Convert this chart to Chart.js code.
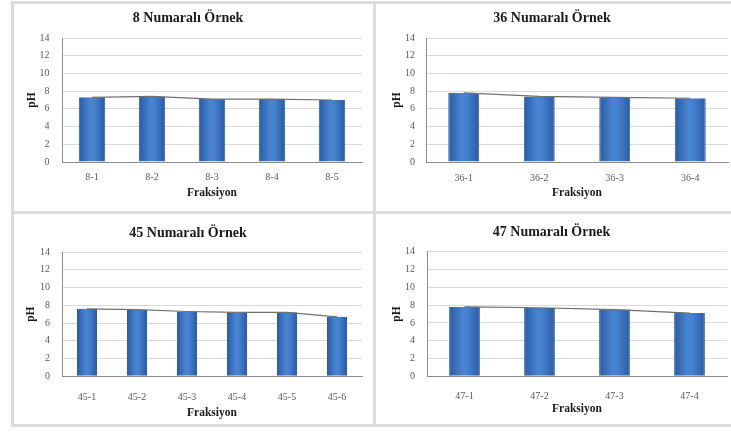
<!DOCTYPE html>
<html>
<head>
<meta charset="utf-8">
<script src="https://cdn.jsdelivr.net/npm/chart.js@4.4.1/dist/chart.umd.min.js"></script>
<style>
  html, body { margin: 0; padding: 0; background: #ffffff; }
  #wrap { position: relative; width: 731px; height: 432px; overflow: hidden; background: #ffffff; }
  .frame { position: absolute; background: #dcdcdc; }
  canvas { position: absolute; }
</style>
</head>
<body>
<div id="wrap">
  <div class="frame" style="left:11px;top:1px;width:720px;height:3px"></div>
  <div class="frame" style="left:11px;top:211px;width:720px;height:3px"></div>
  <div class="frame" style="left:11px;top:424px;width:720px;height:3px"></div>
  <div class="frame" style="left:11px;top:1px;width:3px;height:426px"></div>
  <div class="frame" style="left:373px;top:1px;width:3px;height:426px"></div>
  <canvas id="c8"  width="359" height="207" style="left:14px;top:4px"></canvas>
  <canvas id="c36" width="355" height="207" style="left:376px;top:4px"></canvas>
  <canvas id="c45" width="359" height="210" style="left:14px;top:214px"></canvas>
  <canvas id="c47" width="355" height="210" style="left:376px;top:214px"></canvas>
</div>
<script>
// Fraction labels and measured pH for each sample
const fractions8  = ['8-1', '8-2', '8-3', '8-4', '8-5'];
const ph8         = [7.3, 7.4, 7.1, 7.1, 7.0];

const fractions36 = ['36-1', '36-2', '36-3', '36-4'];
const ph36        = [7.8, 7.4, 7.3, 7.2];

const fractions45 = ['45-1', '45-2', '45-3', '45-4', '45-5', '45-6'];
const ph45        = [7.6, 7.5, 7.3, 7.2, 7.2, 6.7];

const fractions47 = ['47-1', '47-2', '47-3', '47-4'];
const ph47        = [7.8, 7.7, 7.5, 7.1];

const yTicks = [0, 2, 4, 6, 8, 10, 12, 14];

const SERIF = '"Liberation Serif", "Times New Roman", "DejaVu Serif", serif';

// Blue bar fill, darker at the edges and lighter in the middle
function barFill(ctx, barPct) {
  const chart = ctx.chart;
  const xs = chart.scales && chart.scales.x;
  if (!xs || ctx.type !== 'data' || !isFinite(xs.width)) return '#3a73c2';
  const n = chart.data.labels.length;
  const cx = xs.getPixelForValue(ctx.dataIndex);
  const half = (xs.width / n) * barPct / 2;
  const g = chart.ctx.createLinearGradient(cx - half, 0, cx + half, 0);
  g.addColorStop(0, '#2a5ba3');
  g.addColorStop(0.45, '#4a85d3');
  g.addColorStop(0.6, '#4580cf');
  g.addColorStop(1, '#2a5ba3');
  return g;
}

function makeChart(id, title, labels, values, L) {
  return new Chart(document.getElementById(id), {
    data: {
      labels: labels,
      datasets: [
        {
          type: 'line',
          data: values,
          borderColor: '#707070',
          borderWidth: 1.2,
          pointRadius: 0,
          tension: 0,
          order: 0
        },
        {
          type: 'bar',
          data: values,
          backgroundColor: (c) => barFill(c, L.bar),
          borderColor: '#2d5c9e',
          borderWidth: { top: 0, left: 1, right: 1, bottom: 0 },
          categoryPercentage: 1,
          barPercentage: L.bar,
          order: 1
        }
      ]
    },
    options: {
      responsive: false,
      animation: false,
      events: [],
      layout: { padding: { left: 0, right: L.padRight, top: 0, bottom: 0 } },
      plugins: {
        legend: { display: false },
        tooltip: { enabled: false },
        title: {
          display: true,
          text: title,
          color: '#1a1a1a',
          font: { family: SERIF, size: 14, weight: 'bold', lineHeight: 1.2 },
          padding: { top: L.titleTop, bottom: L.titleBottom }
        }
      },
      scales: {
        x: {
          grid: { display: false, drawTicks: false },
          border: { display: true, color: '#8c8c8c', width: 1 },
          ticks: {
            color: '#595959',
            padding: L.xTickPad,
            font: { family: SERIF, size: 10, lineHeight: 1.2 }
          },
          title: {
            display: true,
            text: 'Fraksiyon',
            color: '#1a1a1a',
            font: { family: SERIF, size: 11.5, weight: 'bold', lineHeight: 1.2 },
            padding: { top: 0, bottom: L.xTitleBottom }
          },
          afterFit: (s) => { s.height = L.xHeight; }
        },
        y: {
          min: 0,
          max: 14,
          afterBuildTicks: (s) => { s.ticks = yTicks.map(v => ({ value: v })); },
          grid: { color: '#d9d9d9', lineWidth: 1, drawTicks: false },
          border: { display: true, color: '#8c8c8c', width: 1 },
          ticks: {
            color: '#595959',
            padding: L.yTickPad,
            font: { family: SERIF, size: 10, lineHeight: 1.2 }
          },
          title: {
            display: true,
            text: 'pH',
            color: '#1a1a1a',
            font: { family: SERIF, size: 11.5, weight: 'bold', lineHeight: 1.2 },
            padding: { top: L.yTitleTop, bottom: 0 }
          },
          afterFit: (s) => { s.width = L.yWidth; }
        }
      }
    }
  });
}

makeChart('c8', '8 Numaralı Örnek', fractions8, ph8, {
  bar: 0.44, padRight: 11, titleTop: 5.6, titleBottom: 11.6,
  xHeight: 49, xTickPad: 9, xTitleBottom: 11.1,
  yWidth: 48, yTickPad: 12.5, yTitleTop: 11.1
});
makeChart('c36', '36 Numaralı Örnek', fractions36, ph36, {
  bar: 0.41, padRight: 3, titleTop: 5.9, titleBottom: 11.3,
  xHeight: 49, xTickPad: 10, xTitleBottom: 11.1,
  yWidth: 50, yTickPad: 11, yTitleTop: 13.7
});
makeChart('c45', '45 Numaralı Örnek', fractions45, ph45, {
  bar: 0.40, padRight: 11, titleTop: 10.6, titleBottom: 10.6,
  xHeight: 47.7, xTickPad: 15.4, xTitleBottom: 4.4,
  yWidth: 48, yTickPad: 12, yTitleTop: 10.1
});
makeChart('c47', '47 Numaralı Örnek', fractions47, ph47, {
  bar: 0.41, padRight: 4, titleTop: 10.3, titleBottom: 10.6,
  xHeight: 47.7, xTickPad: 13.7, xTitleBottom: 7.8,
  yWidth: 51, yTickPad: 12, yTitleTop: 13.7
});
</script>
</body>
</html>
